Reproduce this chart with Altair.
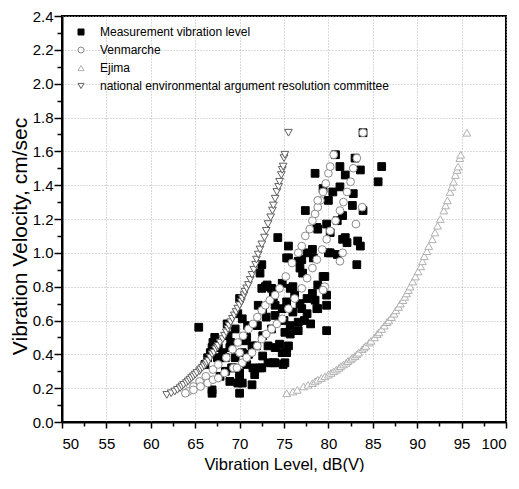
import altair as alt
import pandas as pd

# ---------------- data ----------------
series_names = [
    "Measurement vibration level",
    "Venmarche",
    "Ejima",
    "national environmental argument resolution committee",
]

meas_x = [65.4, 66.9, 66.9, 67.0, 66.7, 67.6, 67.2, 66.9, 68.0, 68.1, 68.4, 68.7, 68.9, 68.9, 69.3,
          69.1, 69.5, 69.5, 70.0, 70.0, 70.0, 69.8, 70.3, 70.3, 70.3, 70.8, 70.8, 70.9, 71.4, 71.4,
          71.5, 71.7, 72.0, 72.1, 72.6, 72.6, 72.6, 72.5, 70.0, 66.4, 66.1, 67.5, 68.4, 67.8, 69.0,
          71.0, 70.5, 71.9, 69.8, 68.6,
          72.5, 72.9, 73.1, 73.6, 74.8, 75.7, 74.0, 74.0, 74.8, 75.3, 76.2, 77.0, 76.6, 75.7, 75.1,
          77.6, 78.2, 78.8, 78.8, 79.8, 79.8, 79.8, 78.5, 73.6, 73.2, 74.0, 74.8, 75.5, 73.2, 74.0,
          75.1, 73.8, 74.9, 72.3, 75.3, 77.6, 78.7, 76.6, 75.7, 74.5, 73.0, 76.0, 77.3, 78.0, 76.8,
          73.8, 75.0, 72.3,
          72.5, 74.3, 75.5, 75.5, 75.3, 77.0, 77.6, 78.2, 76.8, 77.1, 79.4, 80.0, 78.8, 80.2, 76.6,
          78.3, 79.6, 76.0, 77.4, 79.8, 78.7, 81.0, 81.6, 83.3, 83.6, 80.2, 81.0, 83.2, 82.1, 81.9,
          78.5, 79.4, 80.5, 80.0, 81.3, 81.3, 81.9, 83.6, 86.0, 85.6, 82.8, 82.7, 83.9, 81.6, 83.9,
          80.8, 83.0]
meas_y = [0.56, 0.17, 0.19, 0.47, 0.41, 0.44, 0.50, 0.44, 0.38, 0.41, 0.38, 0.51, 0.44, 0.24, 0.32,
          0.32, 0.38, 0.55, 0.26, 0.29, 0.17, 0.23, 0.23, 0.41, 0.61, 0.34, 0.50, 0.57, 0.22, 0.45,
          0.32, 0.28, 0.57, 0.69, 0.51, 0.67, 0.39, 0.32, 0.73, 0.38, 0.34, 0.38, 0.30, 0.27, 0.47,
          0.40, 0.48, 0.45, 0.64, 0.58,
          0.79, 0.80, 0.81, 0.79, 0.82, 0.79, 0.69, 0.63, 0.67, 0.71, 0.75, 0.67, 0.59, 0.57, 0.53,
          0.73, 0.76, 0.81, 0.67, 0.75, 0.69, 0.54, 0.72, 0.55, 0.45, 0.44, 0.41, 0.45, 0.35, 0.35,
          0.35, 0.35, 0.34, 0.32, 0.41, 0.64, 0.67, 0.54, 0.52, 0.46, 0.62, 0.65, 0.60, 0.58, 0.70,
          0.74, 0.60, 0.88,
          0.93, 1.09, 1.04, 0.97, 0.97, 0.96, 1.00, 1.02, 0.91, 0.88, 0.86, 1.00, 1.14, 1.12, 0.95,
          0.97, 0.86, 0.80, 1.25, 1.17, 1.15, 1.19, 1.08, 1.07, 1.04, 1.00, 0.99, 0.93, 1.06, 1.09,
          1.47, 1.38, 1.36, 1.31, 1.39, 1.51, 1.46, 1.49, 1.51, 1.42, 1.35, 1.28, 1.25, 1.22, 1.71,
          1.58, 1.56]

venm_x = [64.2, 64.8, 65.5, 66.2, 67.0, 67.6, 68.5, 69.2, 69.8, 70.4, 71.0, 71.5, 72.0, 72.5, 72.9,
          73.4, 74.0, 74.5, 75.2, 75.9, 76.6, 77.0, 77.4, 77.9, 78.2, 78.5, 78.8, 79.1, 79.4, 79.7,
          80.0, 80.2, 80.6,
          63.9, 64.8, 65.6, 66.4, 67.0, 67.6, 68.3, 69.3, 70.3, 70.8, 71.4, 72.0, 72.5, 73.0, 73.6,
          74.2, 74.8, 75.5, 76.2, 77.0, 77.6, 78.2, 78.7, 79.3, 79.8, 80.2, 80.8, 81.3, 81.7, 82.1,
          82.5, 82.8, 83.2,
          83.9, 83.8, 83.1, 81.6, 81.3, 79.6, 79.4, 78.8, 69.7, 70.0]
venm_y = [0.18, 0.21, 0.24, 0.27, 0.31, 0.34, 0.38, 0.43, 0.47, 0.51, 0.55, 0.58, 0.62, 0.66, 0.69,
          0.72, 0.75, 0.79, 0.86, 0.94, 1.00, 1.04, 1.10, 1.14, 1.19, 1.23, 1.27, 1.31, 1.36, 1.41,
          1.47, 1.51, 1.58,
          0.17, 0.19, 0.21, 0.23, 0.25, 0.26, 0.29, 0.32, 0.35, 0.38, 0.41, 0.45, 0.49, 0.52, 0.55,
          0.58, 0.61, 0.67, 0.73, 0.79, 0.85, 0.91, 0.96, 1.02, 1.08, 1.13, 1.19, 1.25, 1.30, 1.36,
          1.42, 1.50, 1.56,
          1.71, 1.27, 1.17, 1.00, 0.95, 0.80, 0.78, 1.31, 0.32, 0.41]

ejima_x = [75.3, 76.0, 76.5, 77.2, 77.7, 78.2, 78.5, 78.8, 79.2, 79.6, 80.0, 80.3, 80.6, 80.9, 81.2,
           81.4, 81.7, 82.0, 82.2, 82.5, 82.7, 83.0, 83.2, 83.4, 83.8, 84.0, 84.2, 84.6, 84.8, 85.2,
           85.5, 85.7, 86.0, 86.3, 86.6, 86.8, 87.1, 87.4, 87.6, 87.9, 88.1, 88.4, 88.6, 88.8, 89.0,
           89.2, 89.5, 89.8, 90.1, 90.4, 90.6, 90.8, 91.1, 91.3, 91.7, 92.0, 92.3, 92.6, 93.0, 93.2,
           93.4, 93.7, 93.9, 94.1, 94.3, 94.5, 94.6, 94.8, 94.9, 95.6]
ejima_y = [0.17, 0.18, 0.19, 0.21, 0.22, 0.23, 0.24, 0.25, 0.26, 0.27, 0.28, 0.29, 0.30, 0.31, 0.32,
           0.33, 0.34, 0.35, 0.36, 0.37, 0.38, 0.39, 0.40, 0.41, 0.43, 0.44, 0.45, 0.47, 0.48, 0.50,
           0.52, 0.53, 0.55, 0.57, 0.59, 0.60, 0.62, 0.64, 0.66, 0.68, 0.70, 0.72, 0.74, 0.76, 0.78,
           0.80, 0.83, 0.86, 0.89, 0.92, 0.95, 0.98, 1.01, 1.04, 1.08, 1.12, 1.16, 1.20, 1.25, 1.28,
           1.31, 1.36, 1.39, 1.42, 1.46, 1.49, 1.51, 1.56, 1.58, 1.71]

nat_x = [61.8, 62.3, 62.7, 63.0, 63.3, 63.5, 63.7, 64.0, 64.2, 64.4, 64.6, 64.8, 65.0, 65.2, 65.5,
         65.6, 65.8, 66.0, 66.2, 66.3, 66.5, 66.7, 66.9, 67.1, 67.3, 67.5, 67.6, 67.8, 68.1, 68.3,
         68.5, 68.7, 68.8, 69.0, 69.2, 69.4, 69.6, 69.8, 70.0, 70.2, 70.3, 70.5, 70.6, 70.8, 71.0,
         71.2, 71.4, 71.6, 71.8, 71.9, 72.1, 72.3, 72.5, 72.8, 73.0, 73.2, 73.5, 73.7, 73.8, 74.0,
         74.2, 74.4, 74.5, 74.7, 74.8, 74.9, 75.0, 75.1, 75.5]
nat_y = [0.16, 0.17, 0.18, 0.19, 0.20, 0.21, 0.22, 0.23, 0.24, 0.25, 0.26, 0.27, 0.28, 0.29, 0.30,
         0.31, 0.32, 0.33, 0.34, 0.35, 0.36, 0.38, 0.40, 0.41, 0.43, 0.44, 0.45, 0.47, 0.49, 0.51,
         0.53, 0.55, 0.57, 0.59, 0.61, 0.63, 0.65, 0.67, 0.69, 0.71, 0.73, 0.75, 0.77, 0.79, 0.81,
         0.84, 0.87, 0.90, 0.93, 0.96, 0.99, 1.02, 1.05, 1.09, 1.13, 1.17, 1.21, 1.25, 1.28, 1.32,
         1.36, 1.39, 1.42, 1.46, 1.49, 1.51, 1.56, 1.58, 1.71]

x_ticks = [50, 52.5, 55, 57.5, 60, 62.5, 65, 67.5, 70, 72.5, 75, 77.5, 80, 82.5, 85, 87.5, 90,
           92.5, 95, 97.5, 100]
y_ticks = [0.0, 0.1, 0.2, 0.3, 0.4, 0.5, 0.6, 0.7, 0.8, 0.9, 1.0, 1.1, 1.2, 1.3, 1.4, 1.5, 1.6,
           1.7, 1.8, 1.9, 2.0, 2.1, 2.2, 2.3, 2.4]

# ---------------- table ----------------
rows = []
for name, xs, ys in [
    (series_names[0], meas_x, meas_y),
    (series_names[1], venm_x, venm_y),
    (series_names[2], ejima_x, ejima_y),
    (series_names[3], nat_x, nat_y),
]:
    for a, b in zip(xs, ys):
        rows.append({"level": a, "velocity": b, "series": name})
df = pd.DataFrame(rows)

FONT = "Liberation Sans"

legend = alt.Legend(
    title=None, orient="none", legendX=13, legendY=10,
    labelFont=FONT, labelFontSize=12, labelColor="black",
    symbolSize=36, symbolStrokeWidth=1, labelOffset=13, rowPadding=6,
    labelLimit=400,
)

x_axis = alt.Axis(
    title="Vibration Level, dB(V)", values=x_ticks,
    labelExpr="datum.value % 5 == 0 ? datum.label : ''",
    format="d",
    tickSize={"condition": {"test": "datum.value % 5 == 0", "value": 6}, "value": 4},
    gridOpacity={"condition": {"test": "datum.value % 5 == 0", "value": 1}, "value": 0},
    labelPadding=8, titlePadding=5, titleFontSize=16.5,
)
y_axis = alt.Axis(
    title="Vibration Velocity, cm/sec", values=y_ticks, format=".1f",
    labelExpr="round(datum.value * 10) % 2 == 0 ? datum.label : ''",
    tickSize={"condition": {"test": "round(datum.value * 10) % 2 == 0", "value": 8}, "value": 5},
    gridOpacity={"condition": {"test": "round(datum.value * 10) % 2 == 0", "value": 1}, "value": 0},
    labelPadding=1, titlePadding=2, titleFontSize=21, titleY=220,
)

chart = alt.Chart(df).mark_point(opacity=1, strokeWidth=1, size=60).encode(
    x=alt.X("level:Q", scale=alt.Scale(domain=[50, 100], nice=False, zero=False), axis=x_axis),
    y=alt.Y("velocity:Q", scale=alt.Scale(domain=[0, 2.4], nice=False, zero=False), axis=y_axis),
    shape=alt.Shape("series:N", scale=alt.Scale(
        domain=series_names,
        range=["square", "circle", "triangle-up", "triangle-down"]), legend=legend),
    fill=alt.Fill("series:N", scale=alt.Scale(
        domain=series_names, range=["#000000", "#ffffff", "#ffffff", "#ffffff"]), legend=legend),
    stroke=alt.Stroke("series:N", scale=alt.Scale(
        domain=series_names, range=["#000000", "#8a8a8a", "#b0b0b0", "#606060"]), legend=legend),
).properties(
    width=444, height=406,
    autosize=alt.AutoSizeParams(type="none"),
    padding={"left": 54, "top": 8, "right": 2, "bottom": 50},
    background="white",
).configure_view(
    stroke="black", strokeWidth=2,
).configure_axis(
    labelFont=FONT, titleFont=FONT, labelFontSize=15, titleFontSize=16,
    labelColor="black", titleColor="black", titleFontWeight="normal",
    domainColor="black", domainWidth=2, tickColor="black", tickWidth=1.5,
    gridColor="#b5b5b5", gridDash=[1, 2], gridWidth=1,
)

chart.save("out.html", embed_options={"renderer": "svg", "actions": False})
